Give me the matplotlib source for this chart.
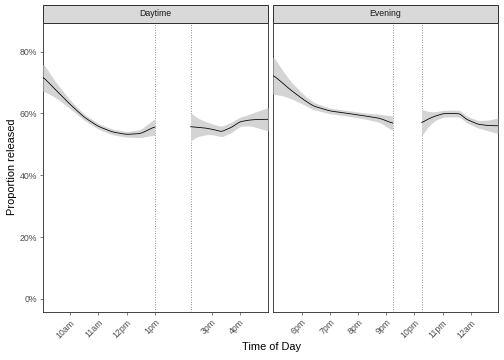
import numpy as np
import matplotlib
matplotlib.use("Agg")
import matplotlib.pyplot as plt
from matplotlib.patches import Rectangle
from matplotlib.ticker import PercentFormatter

plt.rcParams['font.family'] = ['Liberation Sans', 'DejaVu Sans']

# Daytime panel: two smoothed segments, split by the gap
day_x1 = [9.05, 9.5, 10.0, 10.5, 11.0, 11.5, 12.0, 12.5, 13.0]
day_y1 = [0.718, 0.676, 0.630, 0.588, 0.558, 0.540, 0.532, 0.535, 0.557]
day_se1 = [0.045, 0.025, 0.014, 0.010, 0.009, 0.009, 0.009, 0.013, 0.027]

day_x2 = [14.26, 14.5, 14.83, 15.1, 15.35, 15.7, 16.0, 16.3, 16.53, 16.99]
day_y2 = [0.557, 0.555, 0.552, 0.547, 0.541, 0.555, 0.573, 0.578, 0.580, 0.581]
day_se2 = [0.046, 0.030, 0.020, 0.017, 0.017, 0.017, 0.015, 0.018, 0.024, 0.038]

# Evening panel
eve_x1 = [16.98, 17.3, 17.59, 18.06, 18.41, 19.0, 19.71, 20.3, 20.78, 21.23]
eve_y1 = [0.724, 0.700, 0.677, 0.645, 0.624, 0.608, 0.599, 0.591, 0.584, 0.568]
eve_se1 = [0.062, 0.042, 0.028, 0.016, 0.012, 0.009, 0.009, 0.010, 0.013, 0.024]

eve_x2 = [22.26, 22.5, 22.73, 23.02, 23.3, 23.61, 23.85, 24.26, 24.6, 24.96]
eve_y2 = [0.570, 0.582, 0.591, 0.599, 0.600, 0.599, 0.581, 0.565, 0.561, 0.560]
eve_se2 = [0.043, 0.024, 0.014, 0.011, 0.011, 0.011, 0.011, 0.012, 0.017, 0.025]

day_ticks = [10, 11, 12, 13, 15, 16]
day_labels = ['10am', '11am', '12pm', '1pm', '3pm', '4pm']
eve_ticks = [18, 19, 20, 21, 22, 23, 24]
eve_labels = ['6pm', '7pm', '8pm', '9pm', '10pm', '11pm', '12am']

day_gap = [13.0, 14.26]
eve_gap = [21.25, 22.26]


def smooth(x, y, se, n=120):
    xs = np.linspace(x[0], x[-1], n)
    ys = np.interp(xs, x, y)
    ss = np.interp(xs, x, se)
    k = np.ones(7) / 7
    pad = 3
    ys = np.convolve(np.pad(ys, pad, mode='edge'), k, mode='valid')
    ss = np.convolve(np.pad(ss, pad, mode='edge'), k, mode='valid')
    return xs, ys, ss


fig = plt.figure(figsize=(7, 5), dpi=72)

panels = [
    ('Daytime', (9.05, 16.99), [(day_x1, day_y1, day_se1), (day_x2, day_y2, day_se2)],
     day_ticks, day_labels, day_gap, 43),
    ('Evening', (16.98, 24.97), [(eve_x1, eve_y1, eve_se1), (eve_x2, eve_y2, eve_se2)],
     eve_ticks, eve_labels, eve_gap, 273),
]

for title, xlim, segs, ticks, labels, gap, px in panels:
    ax = fig.add_axes([px / 504, 48 / 360, 225 / 504, 289 / 360])
    for x, y, se in segs:
        xs, ys, ss = smooth(x, y, se)
        ax.fill_between(xs, ys - ss, ys + ss, color='#D4D4D4', lw=0, zorder=3)
        ax.plot(xs, ys, color='black', lw=0.8, zorder=4)
    for g in gap:
        ax.axvline(g, color='#333333', ls=(0, (1, 2.5)), lw=0.7, zorder=2)
    ax.set_xlim(*xlim)
    ax.set_ylim(-0.0425, 0.8925)
    ax.set_xticks(ticks)
    ax.set_xticklabels(labels, rotation=45, ha='right', rotation_mode='anchor')
    ax.set_yticks([0, 0.2, 0.4, 0.6, 0.8])
    ax.yaxis.set_major_formatter(PercentFormatter(1.0, decimals=0))
    ax.tick_params(colors='#333333', labelcolor='#4D4D4D', labelsize=8.8,
                   length=3, width=0.6, pad=3)
    ax.spines['top'].set_visible(False)
    for s in ['left', 'right', 'bottom']:
        ax.spines[s].set_color('#333333')
        ax.spines[s].set_linewidth(0.9)
    if px != 43:
        ax.tick_params(axis='y', left=False, labelleft=False)
    # facet strip
    sax = fig.add_axes([px / 504, 337 / 360, 225 / 504, 18 / 360])
    sax.add_patch(Rectangle((0, 0), 1, 1, transform=sax.transAxes, clip_on=False,
                            facecolor='#D9D9D9', edgecolor='#333333', lw=1.0))
    sax.text(0.5, 0.5, title, ha='center', va='center', fontsize=8.8, color='#1A1A1A')
    sax.set_axis_off()

fig.text(12 / 504, (360 - 167) / 360, 'Proportion released', rotation=90,
         ha='center', va='center', fontsize=11)
fig.text(271 / 504, (360 - 347) / 360, 'Time of Day', ha='center', va='center', fontsize=11)

fig.savefig('out.png', dpi=72)
